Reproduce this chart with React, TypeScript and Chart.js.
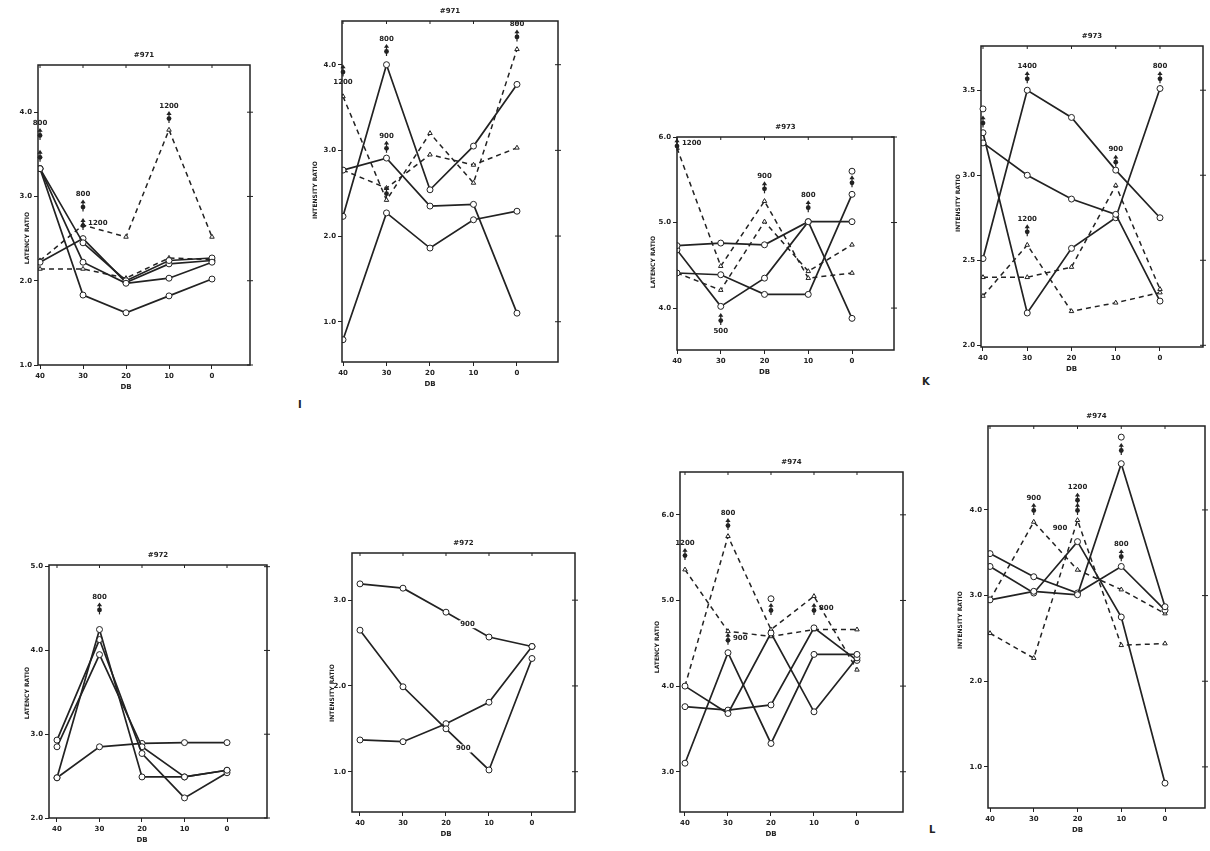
import React, { useEffect, useRef } from 'react';
import { Chart, registerables } from 'chart.js';

Chart.register(...registerables);

// ---------- shared axis data ----------
const dbSteps = [40, 30, 20, 10, 0];
const dbTickLabels = ['40', '30', '20', '10', '0'];

// ---------- #971 latency ----------
const p1Ticks = [1, 2, 3, 4];
const p1SolidA = [3.33, 1.83, 1.62, 1.82, 2.02];
const p1SolidB = [3.33, 2.22, 1.97, 2.03, 2.22];
const p1SolidC = [3.33, 2.45, 2.0, 2.24, 2.27];
const p1SolidD = [2.22, 2.5, 1.98, 2.2, 2.24];
const p1DashA = [2.14, 2.14, 2.03, 2.27, 2.25];
const p1DashB = [2.24, 2.66, 2.52, 3.79, 2.52];
const p1Marks = [
  { kind: 'arrow', x: 40, y: 3.73, label: '800', at: 'above' },
  { kind: 'arrow', x: 40, y: 3.47 },
  { kind: 'arrow', x: 30, y: 2.88, label: '800', at: 'above' },
  { kind: 'arrow', x: 30, y: 2.66, label: '1200', at: 'right' },
  { kind: 'arrow', x: 10, y: 3.93, label: '1200', at: 'above' },
];

// ---------- #971 intensity ----------
const p2Ticks = [1, 2, 3, 4];
const p2SolidA = [2.23, 4.0, 2.54, 3.05, 3.77];
const p2SolidB = [2.77, 2.91, 2.35, 2.37, 1.1];
const p2SolidC = [0.79, 2.27, 1.86, 2.19, 2.29];
const p2DashA = [3.63, 2.42, 3.2, 2.62, 4.18];
const p2DashB = [2.77, 2.56, 2.95, 2.83, 3.03];
const p2Marks = [
  { kind: 'arrow', x: 40, y: 3.92, label: '1200', at: 'below' },
  { kind: 'arrow', x: 30, y: 4.16, label: '800', at: 'above' },
  { kind: 'arrow', x: 30, y: 3.03, label: '900', at: 'above' },
  { kind: 'arrow', x: 30, y: 2.5 },
  { kind: 'arrow', x: 0, y: 4.33, label: '800', at: 'above' },
];

// ---------- #973 latency ----------
const p3Ticks = [4, 5, 6];
const p3SolidA = [4.73, 4.76, 4.74, 5.01, 5.01];
const p3SolidB = [4.68, 4.02, 4.35, 5.01, 3.88];
const p3SolidC = [4.41, 4.39, 4.16, 4.16, 5.33];
const p3DashA = [5.87, 4.49, 5.25, 4.35, 4.41];
const p3DashB = [4.41, 4.21, 5.01, 4.43, 4.74];
const p3Marks = [
  { kind: 'arrow', x: 40, y: 5.9, label: '1200', at: 'right' },
  { kind: 'arrow', x: 30, y: 3.86, label: '500', at: 'below' },
  { kind: 'arrow', x: 20, y: 5.4, label: '900', at: 'above' },
  { kind: 'arrow', x: 10, y: 5.18, label: '800', at: 'above' },
  { kind: 'arrow', x: 0, y: 5.47 },
  { kind: 'circle', x: 0, y: 5.6 },
];

// ---------- #973 intensity ----------
const p4Ticks = [2, 2.5, 3, 3.5];
const p4SolidA = [2.51, 3.5, 3.34, 3.03, 2.75];
const p4SolidB = [3.19, 3.0, 2.86, 2.77, 2.26];
const p4SolidC = [3.25, 2.19, 2.57, 2.75, 3.51];
const p4DashA = [2.29, 2.59, 2.2, 2.25, 2.31];
const p4DashB = [2.4, 2.4, 2.46, 2.94, 2.33];
const p4Marks = [
  { kind: 'arrow', x: 30, y: 3.57, label: '1400', at: 'above' },
  { kind: 'arrow', x: 0, y: 3.57, label: '800', at: 'above' },
  { kind: 'circle', x: 40, y: 3.39 },
  { kind: 'arrow', x: 40, y: 3.31 },
  { kind: 'arrow', x: 30, y: 2.67, label: '1200', at: 'above' },
  { kind: 'arrow', x: 10, y: 3.08, label: '900', at: 'above' },
];

// ---------- #972 latency ----------
const p5Ticks = [2, 3, 4, 5];
const p5SolidA = [2.48, 4.25, 2.49, 2.49, 2.57];
const p5SolidB = [2.93, 4.13, 2.77, 2.24, 2.54];
const p5SolidC = [2.85, 3.95, 2.85, 2.49, 2.57];
const p5SolidD = [2.48, 2.85, 2.89, 2.9, 2.9];
const p5Marks = [{ kind: 'arrow', x: 30, y: 4.49, label: '800', at: 'above' }];

// ---------- #972 intensity ----------
const p6Ticks = [1, 2, 3];
const p6SolidA = [3.19, 3.14, 2.86, 2.57, 2.46];
const p6SolidB = [2.65, 1.99, 1.5, 1.02, 2.32];
const p6SolidC = [1.37, 1.35, 1.56, 1.81, 2.46];
const p6Marks = [
  { kind: 'text', x: 15, y: 2.72, label: '900' },
  { kind: 'text', x: 16, y: 1.27, label: '900' },
];

// ---------- #974 latency ----------
const p7Ticks = [3, 4, 5, 6];
const p7SolidA = [3.1, 4.39, 3.33, 4.37, 4.37];
const p7SolidB = [4.0, 3.68, 4.62, 3.7, 4.33];
const p7SolidC = [3.76, 3.72, 3.78, 4.68, 4.3];
const p7DashA = [5.36, 4.64, 4.58, 4.66, 4.66];
const p7DashB = [4.0, 5.75, 4.66, 5.05, 4.19];
const p7Marks = [
  { kind: 'arrow', x: 40, y: 5.53, label: '1200', at: 'above' },
  { kind: 'arrow', x: 30, y: 5.88, label: '800', at: 'above' },
  { kind: 'arrow', x: 30, y: 4.54, label: '900', at: 'right' },
  { kind: 'arrow', x: 20, y: 4.89 },
  { kind: 'circle', x: 20, y: 5.02 },
  { kind: 'arrow', x: 10, y: 4.89, label: '800', at: 'right' },
];

// ---------- #974 intensity ----------
const p8Ticks = [1, 2, 3, 4];
const p8SolidA = [2.95, 3.05, 3.01, 4.54, 2.87];
const p8SolidB = [3.49, 3.22, 3.03, 3.34, 2.83];
const p8SolidC = [3.34, 3.03, 3.63, 2.75, 0.81];
const p8DashA = [2.56, 2.27, 3.88, 2.42, 2.44];
const p8DashB = [2.95, 3.86, 3.3, 3.07, 2.79];
const p8Marks = [
  { kind: 'arrow', x: 10, y: 4.7 },
  { kind: 'circle', x: 10, y: 4.85 },
  { kind: 'arrow', x: 30, y: 4.0, label: '900', at: 'above' },
  { kind: 'arrow', x: 20, y: 4.12, label: '1200', at: 'above' },
  { kind: 'arrow', x: 20, y: 4.0 },
  { kind: 'text', x: 24, y: 3.79, label: '900' },
  { kind: 'arrow', x: 10, y: 3.46, label: '800', at: 'above' },
];

// ---------- panels (data + axis ranges) ----------
const LAT = 'LATENCY RATIO';
const INT = 'INTENSITY RATIO';
const panels = [
  { title: '#971', yTitle: LAT, ticks: p1Ticks, yMin: 1.0, yMax: 4.56, xMin: -8.84, xMax: 40.47, solid: [p1SolidA, p1SolidB, p1SolidC, p1SolidD], dashed: [p1DashA, p1DashB], marks: p1Marks },
  { title: '#971', yTitle: INT, ticks: p2Ticks, yMin: 0.53, yMax: 4.51, xMin: -9.43, xMax: 40.23, solid: [p2SolidA, p2SolidB, p2SolidC], dashed: [p2DashA, p2DashB], marks: p2Marks },
  { title: '#973', yTitle: LAT, ticks: p3Ticks, yMin: 3.51, yMax: 6.0, xMin: -9.6, xMax: 40.0, solid: [p3SolidA, p3SolidB, p3SolidC], dashed: [p3DashA, p3DashB], marks: p3Marks },
  { title: '#973', yTitle: INT, ticks: p4Ticks, yMin: 1.99, yMax: 3.76, xMin: -9.72, xMax: 40.45, solid: [p4SolidA, p4SolidB, p4SolidC], dashed: [p4DashA, p4DashB], marks: p4Marks },
  { title: '#972', yTitle: LAT, ticks: p5Ticks, yMin: 2.0, yMax: 5.02, xMin: -9.41, xMax: 41.88, solid: [p5SolidA, p5SolidB, p5SolidC, p5SolidD], dashed: [], marks: p5Marks },
  { title: '#972', yTitle: INT, ticks: p6Ticks, yMin: 0.53, yMax: 3.55, xMin: -10.0, xMax: 41.86, solid: [p6SolidA, p6SolidB, p6SolidC], dashed: [], marks: p6Marks },
  { title: '#974', yTitle: LAT, ticks: p7Ticks, yMin: 2.53, yMax: 6.5, xMin: -10.7, xMax: 41.16, solid: [p7SolidA, p7SolidB, p7SolidC], dashed: [p7DashA, p7DashB], marks: p7Marks },
  { title: '#974', yTitle: INT, ticks: p8Ticks, yMin: 0.52, yMax: 4.98, xMin: -9.14, xMax: 40.46, solid: [p8SolidA, p8SolidB, p8SolidC], dashed: [p8DashA, p8DashB], marks: p8Marks },
];

// ---------- layout (plot box in page pixels; yt/yc = y-title offset and centre) ----------
const boxes = [
  { l: 38, t: 65, r: 250, b: 365, yt: -11, yc: 238 },
  { l: 342, t: 21, r: 558, b: 362, yt: -27, yc: 190 },
  { l: 677, t: 137, r: 894, b: 350, yt: -24, yc: 262 },
  { l: 981, t: 46, r: 1203, b: 347, yt: -23, yc: 203 },
  { l: 49, t: 565, r: 267, b: 818, yt: -22, yc: 693 },
  { l: 352, t: 553, r: 575, b: 812, yt: -20, yc: 693 },
  { l: 680, t: 472, r: 903, b: 812, yt: -23, yc: 647 },
  { l: 988, t: 426, r: 1205, b: 808, yt: -28, yc: 620 },
];

const PAD_L = 46;
const PAD_T = 24;
const PAD_R = 12;
const PAD_B = 36;
const INK = '#222222';
const FONT = 'DejaVu Sans';

function makeDecor(panel: any, box: any) {
  return {
    id: 'decor',
    afterDraw(chart: any) {
      const ctx = chart.ctx;
      const { left, top, right, bottom } = chart.chartArea;
      const xs = chart.scales.x;
      const ys = chart.scales.y;
      ctx.save();
      ctx.strokeStyle = INK;
      ctx.fillStyle = INK;
      ctx.lineWidth = 1.5;
      ctx.strokeRect(left, top, right - left, bottom - top);
      // top & right tick marks
      ctx.lineWidth = 1;
      dbSteps.forEach((v) => {
        const px = xs.getPixelForValue(v);
        ctx.beginPath();
        ctx.moveTo(px, top);
        ctx.lineTo(px, top + 3);
        ctx.stroke();
      });
      panel.ticks.forEach((v: number) => {
        const py = ys.getPixelForValue(v);
        ctx.beginPath();
        ctx.moveTo(right - 3, py);
        ctx.lineTo(right + 3, py);
        ctx.stroke();
      });
      // annotation marks
      ctx.font = `bold 7px "${FONT}"`;
      ctx.textBaseline = 'middle';
      panel.marks.forEach((m: any) => {
        const px = xs.getPixelForValue(m.x);
        const py = ys.getPixelForValue(m.y);
        if (m.kind === 'arrow') {
          ctx.lineWidth = 1.2;
          ctx.beginPath();
          ctx.moveTo(px, py - 5);
          ctx.lineTo(px, py + 5);
          ctx.stroke();
          ctx.beginPath();
          ctx.arc(px, py + 0.5, 2.4, 0, Math.PI * 2);
          ctx.fill();
          ctx.beginPath();
          ctx.moveTo(px - 2.6, py - 3.2);
          ctx.lineTo(px, py - 7);
          ctx.lineTo(px + 2.6, py - 3.2);
          ctx.closePath();
          ctx.fill();
        } else if (m.kind === 'circle') {
          ctx.lineWidth = 1;
          ctx.beginPath();
          ctx.arc(px, py, 3, 0, Math.PI * 2);
          ctx.fillStyle = '#fff';
          ctx.fill();
          ctx.stroke();
          ctx.fillStyle = INK;
        }
        if (m.label) {
          const at = m.at || 'center';
          if (at === 'above') {
            ctx.textAlign = 'center';
            ctx.fillText(m.label, px, py - 12);
          } else if (at === 'below') {
            ctx.textAlign = 'center';
            ctx.fillText(m.label, px, py + 11);
          } else if (at === 'right') {
            ctx.textAlign = 'left';
            ctx.fillText(m.label, px + 5, py - 2);
          } else {
            const w = ctx.measureText(m.label).width;
            ctx.fillStyle = '#fff';
            ctx.fillRect(px - w / 2 - 1, py - 4, w + 2, 8);
            ctx.fillStyle = INK;
            ctx.textAlign = 'center';
            ctx.fillText(m.label, px, py);
          }
        }
      });
      // titles
      ctx.font = `bold 7px "${FONT}"`;
      ctx.textAlign = 'center';
      ctx.fillText(panel.title, (left + right) / 2, top - 10);
      ctx.fillText('DB', xs.getPixelForValue(20), bottom + 22);
      ctx.save();
      ctx.translate(left + box.yt, top + (box.yc - box.t));
      ctx.rotate(-Math.PI / 2);
      ctx.font = `bold 6px "${FONT}"`;
      ctx.fillText(panel.yTitle, 0, 0);
      ctx.restore();
      ctx.restore();
    },
  };
}

function Panel({ panel, box }: { panel: any; box: any }) {
  const ref = useRef<HTMLCanvasElement | null>(null);
  const w = box.r - box.l + PAD_L + PAD_R;
  const h = box.b - box.t + PAD_T + PAD_B;
  useEffect(() => {
    if (!ref.current) return;
    const toPts = (arr: number[]) => dbSteps.map((x, i) => ({ x, y: arr[i] }));
    const datasets: any[] = [];
    panel.solid.forEach((arr: number[]) =>
      datasets.push({
        data: toPts(arr),
        borderColor: INK,
        borderWidth: 1.7,
        pointStyle: 'circle',
        pointRadius: 3,
        pointBackgroundColor: '#fff',
        pointBorderColor: INK,
        pointBorderWidth: 1,
        tension: 0,
      })
    );
    panel.dashed.forEach((arr: number[]) =>
      datasets.push({
        data: toPts(arr),
        borderColor: INK,
        borderWidth: 1.5,
        borderDash: [5, 4],
        pointStyle: 'triangle',
        pointRadius: 2.6,
        pointBackgroundColor: '#fff',
        pointBorderColor: INK,
        pointBorderWidth: 1,
        tension: 0,
      })
    );
    const chart = new Chart(ref.current, {
      type: 'line',
      data: { datasets },
      options: {
        responsive: false,
        animation: false,
        devicePixelRatio: 1,
        layout: { padding: { top: PAD_T, right: PAD_R, left: 0, bottom: 0 }, autoPadding: false },
        plugins: { legend: { display: false }, tooltip: { enabled: false }, title: { display: false } },
        scales: {
          x: {
            type: 'linear',
            reverse: true,
            min: panel.xMin,
            max: panel.xMax,
            afterBuildTicks: (s: any) => {
              s.ticks = dbSteps.map((v) => ({ value: v }));
            },
            afterFit: (s: any) => {
              s.height = PAD_B;
            },
            ticks: {
              autoSkip: false,
              maxRotation: 0,
              padding: 3,
              color: INK,
              font: { family: FONT, size: 7, weight: 'bold' },
              callback: (v: any) => {
                const i = dbSteps.indexOf(Number(v));
                return i >= 0 ? dbTickLabels[i] : '';
              },
            },
            grid: { display: true, drawOnChartArea: false, drawTicks: true, tickLength: 4, color: INK, lineWidth: 1 },
            border: { display: false },
          },
          y: {
            type: 'linear',
            min: panel.yMin,
            max: panel.yMax,
            afterBuildTicks: (s: any) => {
              s.ticks = panel.ticks.map((v: number) => ({ value: v }));
            },
            afterFit: (s: any) => {
              s.width = PAD_L;
            },
            ticks: {
              autoSkip: false,
              padding: 2,
              color: INK,
              font: { family: FONT, size: 7, weight: 'bold' },
              callback: (v: any) => Number(v).toFixed(1),
            },
            grid: { display: true, drawOnChartArea: false, drawTicks: true, tickLength: 4, color: INK, lineWidth: 1 },
            border: { display: false },
          },
        },
      },
      plugins: [makeDecor(panel, box)],
    } as any);
    return () => chart.destroy();
  }, []);
  return (
    <canvas
      ref={ref}
      width={w}
      height={h}
      style={{ position: 'absolute', left: box.l - PAD_L, top: box.t - PAD_T, width: w, height: h }}
    />
  );
}

const letterStyle: React.CSSProperties = {
  position: 'absolute',
  fontFamily: FONT,
  fontWeight: 'bold',
  fontSize: 10,
  color: INK,
  lineHeight: '10px',
};

export default function App() {
  return (
    <div style={{ position: 'fixed', left: 0, top: 0, width: 1210, height: 851, background: '#fff', overflow: 'hidden' }}>
      {panels.map((p, i) => (
        <Panel key={i} panel={p} box={boxes[i]} />
      ))}
      <div style={{ ...letterStyle, left: 298, top: 400 }}>I</div>
      <div style={{ ...letterStyle, left: 922, top: 377 }}>K</div>
      <div style={{ ...letterStyle, left: 929, top: 825 }}>L</div>
    </div>
  );
}
